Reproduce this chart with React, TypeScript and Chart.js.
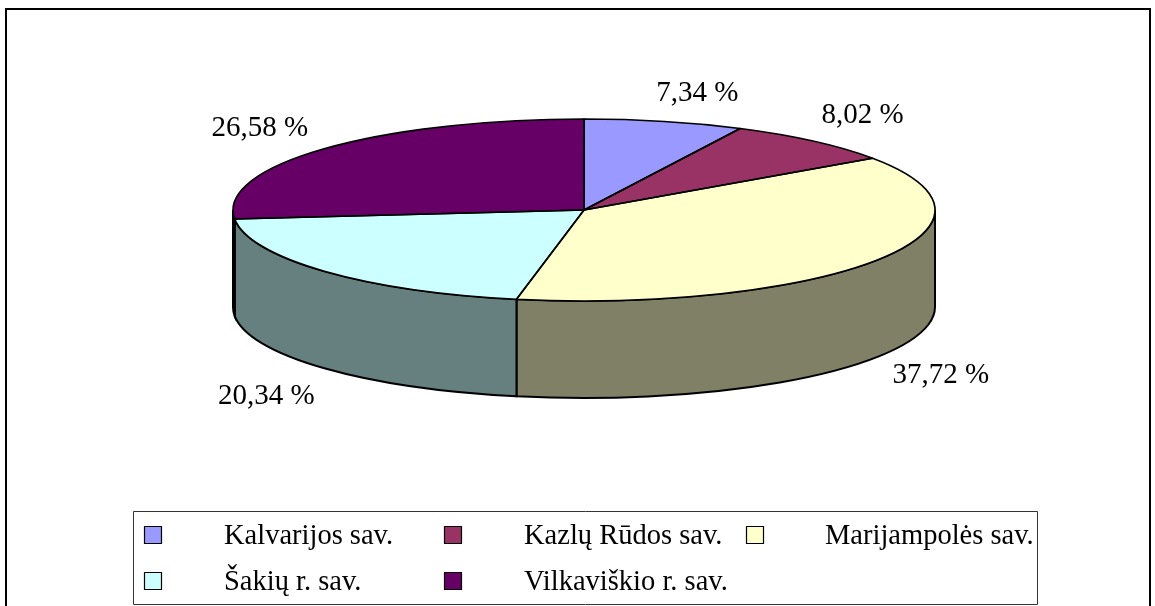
import React, { useEffect, useRef } from "react";
import { Chart, registerables } from "chart.js";

Chart.register(...registerables);

const categories = ["Kalvarijos sav.", "Kazlų Rūdos sav.", "Marijampolės sav.", "Šakių r. sav.", "Vilkaviškio r. sav."];
const shares = [7.34, 8.02, 37.72, 20.34, 26.58];
const percentLabels = ["7,34 %", "8,02 %", "37,72 %", "20,34 %", "26,58 %"];
const topColors = ["#9999FF", "#993366", "#FFFFCC", "#CCFFFF", "#660066"];
const sideColors = ["#4C4C80", "#4C1933", "#808066", "#668080", "#330033"];

const FONT = '"Liberation Serif", "Times New Roman", serif';
const W = 1155, H = 606;
const RX = 351, RY = 91, DEPTH = 97;
// label offsets from the rim point at each slice's mid-angle
const labelOffsets = [[33, -28], [49, -26], [63, 116], [-58, 125], [-64, -21]];
const legendCols = [144, 444, 746];
const legendTextX = [224, 524, 825];
const legendRows = [536, 582];

const pie3d = {
  id: "pie3d",
  beforeDatasetsDraw(chart: any) {
    const { ctx } = chart;
    const arcs = chart.getDatasetMeta(0).data;
    const cx = arcs[0].x, cy = arcs[0].y;
    const r = arcs[0].outerRadius;
    ctx.save();
    // frame
    ctx.strokeStyle = "#000";
    ctx.lineWidth = 2;
    ctx.strokeRect(6, 9, 1144, 640);

    // side walls: only the part of each slice on the front half of the rim
    const FRONT0 = 0, FRONT1 = Math.PI;
    arcs.forEach((a: any, i: number) => {
      const s = a.startAngle, e = a.endAngle;
      const ranges: [number, number][] = [];
      for (const k of [-2, 0, 2]) {
        const lo = Math.max(s, FRONT0 + k * Math.PI), hi = Math.min(e, FRONT1 + k * Math.PI);
        if (hi > lo) ranges.push([lo, hi]);
      }
      ranges.forEach(([lo, hi]) => {
        ctx.beginPath();
        ctx.ellipse(cx, cy, RX, RY, 0, lo, hi, false);
        ctx.ellipse(cx, cy + DEPTH, RX, RY, 0, hi, lo, true);
        ctx.closePath();
        ctx.fillStyle = sideColors[i];
        ctx.fill();
        ctx.lineWidth = 2;
        ctx.strokeStyle = "#000";
        ctx.stroke();
      });
    });
    ctx.restore();
    // squash the library's circular arcs onto the ellipse
    ctx.save();
    ctx.translate(cx, cy);
    ctx.scale(RX / r, RY / r);
    ctx.translate(-cx, -cy);
  },
  afterDatasetsDraw(chart: any) {
    const { ctx } = chart;
    ctx.restore();
    const arcs = chart.getDatasetMeta(0).data;
    const cx = arcs[0].x, cy = arcs[0].y;
    ctx.save();
    ctx.strokeStyle = "#000";
    ctx.lineWidth = 1.6;
    ctx.lineJoin = "round";
    arcs.forEach((a: any) => {
      ctx.beginPath();
      ctx.moveTo(cx, cy);
      ctx.ellipse(cx, cy, RX, RY, 0, a.startAngle, a.endAngle, false);
      ctx.closePath();
      ctx.stroke();
    });
    // percent labels
    ctx.fillStyle = "#000";
    ctx.font = `29px ${FONT}`;
    ctx.textAlign = "center";
    ctx.textBaseline = "middle";
    arcs.forEach((a: any, i: number) => {
      const m = (a.startAngle + a.endAngle) / 2;
      const x = cx + RX * Math.cos(m) + labelOffsets[i][0];
      const y = cy + RY * Math.sin(m) + labelOffsets[i][1];
      ctx.fillText(percentLabels[i], x, y);
    });
    // legend
    ctx.fillStyle = "#fff";
    ctx.fillRect(133.5, 511.5, 904, 93);
    ctx.strokeStyle = "#333";
    ctx.lineWidth = 1;
    ctx.strokeRect(133.5, 511.5, 904, 93);
    ctx.font = `28.5px ${FONT}`;
    ctx.textAlign = "left";
    categories.forEach((c, i) => {
      const col = i % 3, row = Math.floor(i / 3);
      const y = legendRows[row];
      ctx.fillStyle = topColors[i];
      ctx.fillRect(legendCols[col] + 0.5, y - 9.5, 17, 17);
      ctx.strokeStyle = "#000";
      ctx.lineWidth = 1.2;
      ctx.strokeRect(legendCols[col] + 0.5, y - 9.5, 17, 17);
      ctx.fillStyle = "#000";
      ctx.fillText(c, legendTextX[col], y + 1);
    });
    ctx.restore();
  },
};

export default function App() {
  const ref = useRef<HTMLCanvasElement | null>(null);
  useEffect(() => {
    document.body.style.margin = "0";
    document.body.style.background = "#fff";
    const chart = new Chart(ref.current!, {
      type: "pie",
      data: {
        labels: categories,
        datasets: [{ data: shares, backgroundColor: topColors, borderWidth: 0, hoverOffset: 0 }],
      },
      options: {
        responsive: false,
        animation: false,
        layout: { padding: { top: 119, bottom: H - 301, left: 584 - 91, right: W - 584 - 91 } },
        plugins: { legend: { display: false }, tooltip: { enabled: false }, title: { display: false } },
      },
      plugins: [pie3d],
    });
    return () => chart.destroy();
  }, []);
  return <canvas ref={ref} width={W} height={H} style={{ display: "block" }} />;
}
